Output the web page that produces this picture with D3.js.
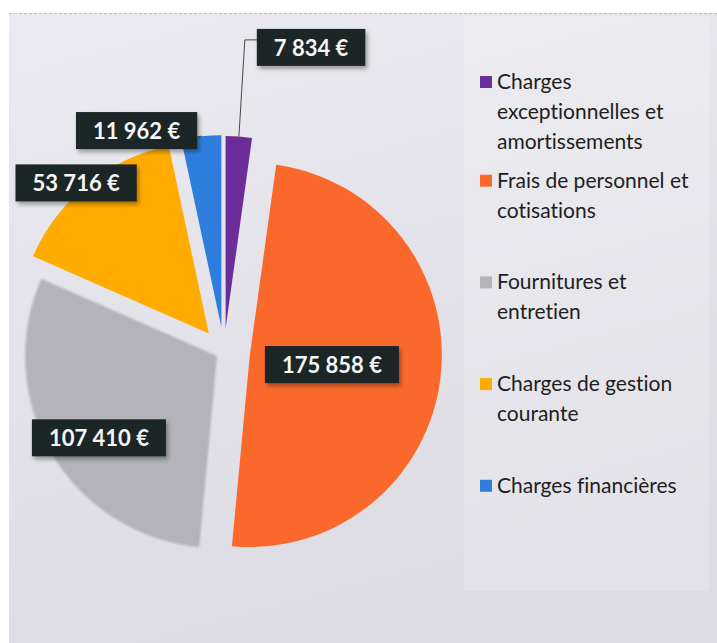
<!DOCTYPE html>
<html>
<head>
<meta charset="utf-8">
<script src="https://cdn.jsdelivr.net/npm/d3@7"></script>
<style>
  body { margin: 0; background: #fff; }
  svg { display: block; }
  text { font-variant-ligatures: none; }
</style>
</head>
<body>
<svg id="chart"></svg>
<script>
// data
const categories = [
  "Charges exceptionnelles et amortissements",
  "Frais de personnel et cotisations",
  "Fournitures et entretien",
  "Charges de gestion courante",
  "Charges financières"
];
const values = [7834, 175858, 107410, 53716, 11962];

// styling
const sliceColors = ["#6a2d99", "#fa692b", "#b4b3ba", "#ffab00", "#2e7fdd"];
const explode = [24, 26, 8, 24, 25];           // px each slice is pulled out
const labelAt = [                               // angle nudge (deg) + radius (x R) from pie centre
  { da: 12, r: 1.65 },
  { da: 0, r: 0.566 },
  { da: -4, r: 0.79 },
  { da: -2, r: 1.17 },
  { da: -15.5, r: 1.24 }
];

const width = 717, height = 643;
const cx = 224, cy = 352, R = 192;

const svg = d3.select("#chart").attr("width", width).attr("height", height);
const defs = svg.append("defs");

const bgGrad = defs.append("linearGradient").attr("id", "bg").attr("x1", 0).attr("y1", 0).attr("x2", 0.3).attr("y2", 1);
bgGrad.append("stop").attr("offset", "0%").attr("stop-color", "#ebeaf0");
bgGrad.append("stop").attr("offset", "100%").attr("stop-color", "#dddce3");

const shadow = defs.append("filter").attr("id", "shadow").attr("x", "-20%").attr("y", "-20%").attr("width", "150%").attr("height", "160%");
shadow.append("feDropShadow").attr("dx", 2).attr("dy", 3).attr("stdDeviation", 2).attr("flood-color", "#000").attr("flood-opacity", 0.35);

const soft = defs.append("filter").attr("id", "soft");
soft.append("feGaussianBlur").attr("stdDeviation", 1.1);

// background (scanned sheet)
svg.append("rect").attr("x", 9).attr("y", 13).attr("width", width - 9).attr("height", height - 13).attr("fill", "url(#bg)");
svg.append("line").attr("x1", 9).attr("x2", width).attr("y1", 13.5).attr("y2", 13.5)
  .attr("stroke", "#b9b8be").attr("stroke-dasharray", "3,2");
// legend panel
svg.append("rect").attr("x", 464).attr("y", 16).attr("width", 245).attr("height", 575)
  .attr("fill", "#fff").attr("opacity", 0.18);

const color = d3.scaleOrdinal().domain(categories).range(sliceColors);

const pie = d3.pie().sort(null).value(d => d)(values);
const arc = d3.arc().innerRadius(0).outerRadius(R);
const mid = d => (d.startAngle + d.endAngle) / 2;

const slices = svg.append("g").attr("transform", `translate(${cx},${cy})`);

slices.selectAll(".slice")
  .data(pie)
  .enter()
  .append("path")
  .attr("class", "slice")
  .attr("transform", (d, i) => `translate(${explode[i] * Math.sin(mid(d))},${-explode[i] * Math.cos(mid(d))})`)
  .attr("d", arc)
  .attr("fill", (d, i) => color(categories[i]))
  .attr("filter", (d, i) => i === 2 ? "url(#soft)" : null);

// data labels
const fmt = d3.formatLocale({ decimal: ",", thousands: " ", grouping: [3], currency: ["", " €"] }).format("$,.0f");

const labels = slices.selectAll(".lbl")
  .data(pie)
  .enter()
  .append("g")
  .attr("class", "lbl");

labels.each(function(d, i) {
  const g = d3.select(this);
  const a = mid(d) + labelAt[i].da * Math.PI / 180;
  const lx = labelAt[i].r * R * Math.sin(a);
  const ly = -labelAt[i].r * R * Math.cos(a);

  const txt = g.append("text")
    .attr("x", lx).attr("y", ly)
    .attr("text-anchor", "middle")
    .attr("dominant-baseline", "central")
    .attr("font-family", "Lato, 'Open Sans', sans-serif")
    .attr("font-weight", "bold")
    .attr("font-size", 22)
    .attr("fill", "#f6f6f6")
    .text(fmt(values[i]));
  const tw = txt.node().getComputedTextLength();
  const bw = tw + 34, bh = 37;
  const box = { x: lx - bw / 2, y: ly - bh / 2, w: bw, h: bh };

  g.insert("rect", "text")
    .attr("x", box.x).attr("y", box.y)
    .attr("width", box.w).attr("height", box.h)
    .attr("fill", "#1e2727")
    .attr("filter", "url(#shadow)");

  // leader lines for labels sitting outside the pie
  if (labelAt[i].r > 1) {
    const ex = explode[i];
    const px = (R + ex) * Math.sin(mid(d));
    const py = -(R + ex) * Math.cos(mid(d));
    let pts;
    if (box.x > px) {
      pts = [[px, py], [box.x - 12, box.y + 11], [box.x, box.y + 11]];
    } else {
      pts = [[px, py], [box.x + box.w, box.y + box.h - 12]];
    }
    g.insert("path", "rect")
      .attr("d", d3.line()(pts))
      .attr("fill", "none")
      .attr("stroke", "#4a4a4a")
      .attr("stroke-width", 1);
  }
});

// legend
const legend = svg.append("g").attr("transform", "translate(480,86)");
const lineH = 30, slot = 101.7, maxW = 205;

categories.forEach((name, i) => {
  const g = legend.append("g").attr("transform", `translate(0,${i * slot + (i === 0 ? 3 : 0)})`);
  g.append("rect").attr("x", 0).attr("y", -13).attr("width", 12).attr("height", 12)
    .attr("fill", color(name));
  const t = g.append("text")
    .attr("font-family", "Lato, 'Open Sans', sans-serif")
    .attr("font-size", 21)
    .attr("fill", "#1e1e1e");
  // wrap words into lines
  const words = name.split(" ");
  let line = [], n = 0;
  let tspan = t.append("tspan").attr("x", 17).attr("y", 0);
  words.forEach(w => {
    line.push(w);
    tspan.text(line.join(" "));
    if (tspan.node().getComputedTextLength() > maxW && line.length > 1) {
      line.pop();
      tspan.text(line.join(" "));
      line = [w];
      n++;
      tspan = t.append("tspan").attr("x", 17).attr("y", n * lineH).text(w);
    }
  });
});
</script>
</body>
</html>
